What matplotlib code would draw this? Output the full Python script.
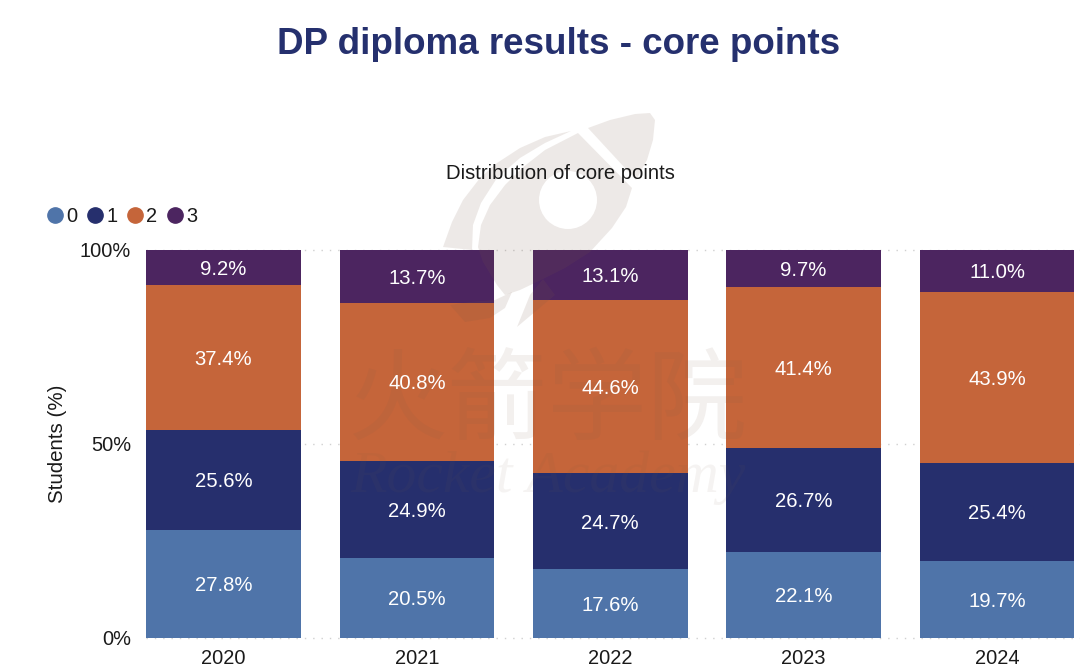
import numpy as np
import matplotlib
matplotlib.use("Agg")
import matplotlib.pyplot as plt
from matplotlib.lines import Line2D
from matplotlib.patches import Polygon, Circle
from matplotlib.transforms import Affine2D, ScaledTranslation

plt.rcParams['font.family'] = ['Liberation Sans', 'DejaVu Sans']

years = ["2020", "2021", "2022", "2023", "2024"]
points = ["0", "1", "2", "3"]
core0 = [27.8, 20.5, 17.6, 22.1, 19.7]
core1 = [25.6, 24.9, 24.7, 26.7, 25.4]
core2 = [37.4, 40.8, 44.6, 41.4, 43.9]
core3 = [9.2, 13.7, 13.1, 9.7, 11.0]
colors = ["#4f74a9", "#262f6d", "#c5653a", "#4c2560"]

W, H = 1080, 669
fig = plt.figure(figsize=(W / 100, H / 100), dpi=100)
# axes run a bit past the right edge, the reference is cropped there
ax = fig.add_axes([126.8 / W, 1 - 637.5 / H, (1093.7 - 126.8) / W, 388 / H])

series = np.array([core0, core1, core2, core3])
shares = series / series.sum(axis=0) * 100  # percent stacking
x = np.arange(len(years))
bottom = np.zeros(len(years))
# labels sit slightly under the middle of each segment
down = ax.transData + ScaledTranslation(0, -2 / 100, fig.dpi_scale_trans)
for i in range(len(points)):
    ax.bar(x, shares[i], 0.8, bottom=bottom, color=colors[i], zorder=2)
    for j in range(len(years)):
        ax.text(x[j], bottom[j] + shares[i][j] / 2, "%.1f%%" % series[i][j], color="white",
                ha="center", va="center", fontsize=14.6, zorder=5, transform=down)
    bottom += shares[i]

ax.set_xlim(-0.5, 4.5)
ax.set_ylim(0, 100)
ax.set_xticks(x, years)
ax.set_yticks([0, 50, 100], ["0%", "50%", "100%"])
ax.tick_params(length=0, labelsize=14.4, colors="#1a1a1a")
ax.tick_params(axis="x", pad=8)
ax.tick_params(axis="y", pad=-3)
ax.hlines([0, 50, 100], -0.4, 4.5, color="#d0d0d0", linestyle=(0, (1, 5)), linewidth=1, zorder=0, clip_on=False)
for s in ax.spines.values():
    s.set_visible(False)
ax.patch.set_alpha(0)
ax.set_ylabel("Students (%)", fontsize=14.8, color="#1a1a1a")
ax.yaxis.set_label_coords((67 - 126.8) / (1093.7 - 126.8), 0.5)

fig.text(559 / W, 1 - 44 / H, "DP diploma results - core points", color="#25306e",
         fontsize=26.5, fontweight="bold", ha="center", va="center")
fig.text(560 / W, 1 - 173.5 / H, "Distribution of core points", color="#1a1a1a",
         fontsize=14.6, ha="center", va="center")

handles = [Line2D([], [], linestyle="", marker="o", markersize=11, color=c) for c in colors]
fig.legend(handles, points, loc="center left", bbox_to_anchor=(37 / W, 1 - 216 / H), ncol=4,
           frameon=False, fontsize=14.4, handlelength=0.8, handletextpad=0.15,
           columnspacing=0.5, borderpad=0, labelcolor="#1a1a1a")

# watermark, pixel positions from the top left corner
px = Affine2D().scale(1, -1).translate(0, H)
wm = "#7a5a48"
body = [(578, 133), (632, 188), (626, 207), (612, 228), (590, 252), (565, 268), (543, 279), (520, 290),
        (505, 295), (497, 285), (483, 262), (478, 247), (481, 225), (490, 205), (505, 185), (522, 168), (545, 150)]
nose = [(588, 128), (610, 120), (635, 114), (650, 113), (655, 120), (653, 140), (647, 160), (636, 180)]
wing = [(571, 131), (545, 143), (520, 158), (497, 178), (481, 203), (473, 225), (472, 250), (443, 247),
        (452, 222), (463, 200), (480, 178), (497, 163), (520, 148), (545, 137)]
fin = [(450, 305), (470, 302), (495, 300), (512, 292), (505, 308), (490, 318), (465, 322)]
flame = [(543, 279), (530, 295), (517, 327), (555, 295)]
for shape in [body, nose, wing, fin, flame]:
    ax.add_patch(Polygon(shape, closed=True, transform=px, facecolor=wm, edgecolor="none",
                         alpha=0.13, zorder=3, clip_on=False))
ax.add_patch(Circle((568, 200), 29, transform=px, facecolor="white", edgecolor="none",
                    zorder=3.5, clip_on=False))
ax.text(548, 403, "火箭学院", transform=px, family=["Noto Sans CJK SC", "DejaVu Sans"], fontsize=72,
        fontweight="light", color=wm, alpha=0.09, ha="center", va="center", zorder=3, clip_on=False)
ax.text(548, 478, "Rocket Academy", transform=px, family="Liberation Serif", style="italic", fontsize=43,
        color=wm, alpha=0.07, ha="center", va="center", zorder=3, clip_on=False)

fig.savefig("out.png", dpi=100)
